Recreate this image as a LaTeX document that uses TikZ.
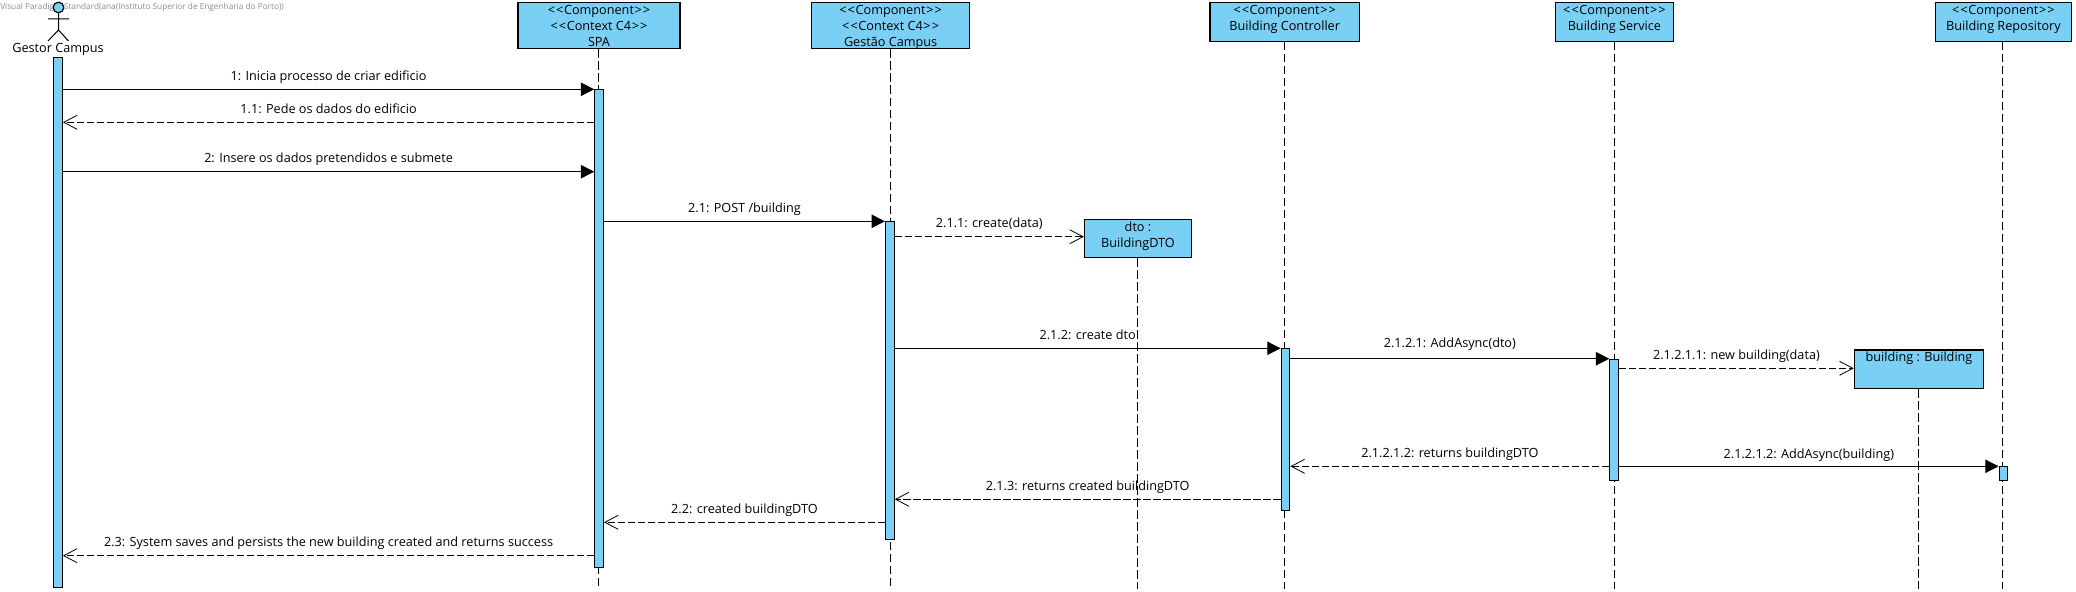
\documentclass[tikz,border=0pt]{standalone}
\usepackage{fontspec}
\setmainfont{Open Sans}
\usetikzlibrary{arrows.meta}
\definecolor{vpblue}{RGB}{122,207,245}
\newcommand{\stereo}[1]{<\kern0.8pt<\kern0.5pt#1\kern0.5pt>\kern0.8pt>}
\tikzset{
  lifebox/.style={draw,line width=0.9pt,fill=vpblue,inner xsep=0pt,inner ysep=0pt,anchor=north,align=center,
    font=\fontsize{9.5}{11.8}\selectfont},
  threelines/.style={text height=32.6pt,text depth=1.9pt},
  twolines/.style={text height=20.8pt,text depth=7.9pt},
  oneline/.style={text height=8.8pt,text depth=20pt},
  actbar/.style={draw,line width=0.75pt,fill=vpblue,inner sep=0pt,anchor=north,minimum width=6.6pt},
  lifeline/.style={line width=0.75pt,dash pattern=on 6.5pt off 2.5pt},
  callmsg/.style={line width=0.9pt,-{Triangle[length=10pt,width=10pt]}},
  replymsg/.style={line width=0.85pt,dash pattern=on 5.5pt off 2pt,-{Straight Barb[length=10pt,width=10.5pt,line width=0.6pt]}},
  msglabel/.style={midway,yshift=9.2pt,inner sep=0pt,font=\fontsize{9.5}{12}\selectfont,text height=7pt,text depth=2pt},
}
\begin{document}
\begin{tikzpicture}[x=0.75pt,y=0.75pt,yscale=-1,xscale=1]
\useasboundingbox (0,0) rectangle (2076,592);

% Text Node
\node [anchor=west,inner sep=0pt,text=black!45,font=\fontsize{6.2}{7}\selectfont] (watermark) at (0,7) {Visual Paradigm Standard(ana(Instituto Superior de Engenharia do Porto))};

%Shape: Actor
\node [circle,draw,line width=0.9pt,fill=vpblue,inner sep=0pt,minimum size=8pt] (gestorHead) at (58.5,7.5) {};
\coordinate (gestorHip) at (58.5,30);
\coordinate (gestorArmL) at (48,19);
\coordinate (gestorArmR) at (69,19);
\coordinate (gestorLegL) at (48,41);
\coordinate (gestorLegR) at (68.5,41);
\draw [line width=0.75pt] (gestorHead) -- (gestorHip) (gestorArmL) -- (gestorArmR) (gestorLegL) -- (gestorHip) -- (gestorLegR);
\node [inner sep=0pt,font=\fontsize{9.5}{12}\selectfont] (gestorName) at (58,49) {Gestor Campus};

%Shape: Lifeline heads
\node [lifebox,threelines,minimum width=121.5pt] (spa) at (599,2.3) {\stereo{Component}\\\stereo{Context C4}\\SPA};
\node [lifebox,threelines,minimum width=118.5pt] (gestao) at (890.6,2.3) {\stereo{Component}\\\stereo{Context C4}\\Gestão Campus};
\node [lifebox,twolines,minimum width=112pt] (controller) at (1284.7,2.3) {\stereo{Component}\\Building Controller};
\node [lifebox,twolines,minimum width=88.3pt] (service) at (1614.4,2.3) {\stereo{Component}\\Building Service};
\node [lifebox,twolines,minimum width=102.2pt] (repository) at (2003.4,2.3) {\stereo{Component}\\Building Repository};
\node [lifebox,twolines,minimum width=80.3pt] (dto) at (1138,218.7) {dto :\\BuildingDTO};
\node [lifebox,oneline,minimum width=97pt] (building) at (1919,349.3) {building : Building};

%Straight Lines
\coordinate (spaEnd) at (598.5,589);
\coordinate (gestaoEnd) at (890.6,589);
\coordinate (dtoEnd) at (1137.5,589);
\coordinate (controllerEnd) at (1284.4,589);
\coordinate (serviceEnd) at (1614,589);
\coordinate (buildingEnd) at (1918.5,589);
\coordinate (repositoryEnd) at (2002,589);
\draw [lifeline] (spa.south -| spaEnd) -- (spaEnd);
\draw [lifeline] (gestao.south -| gestaoEnd) -- (gestaoEnd);
\draw [lifeline] (dto.south -| dtoEnd) -- (dtoEnd);
\draw [lifeline] (controller.south -| controllerEnd) -- (controllerEnd);
\draw [lifeline] (service.south -| serviceEnd) -- (serviceEnd);
\draw [lifeline] (building.south -| buildingEnd) -- (buildingEnd);
\draw [lifeline] (repository.south -| repositoryEnd) -- (repositoryEnd);

%Shape: Rectangle
\node [actbar,minimum height=397.7pt] (barGestor) at (58,56.7) {};
\node [actbar,minimum height=358pt] (barSpa) at (599.1,89.3) {};
\node [actbar,minimum height=238.5pt] (barGestao) at (889.8,221.3) {};
\node [actbar,minimum height=121.5pt] (barController) at (1285.5,348.3) {};
\node [actbar,minimum height=90.75pt] (barService) at (1614.2,358.7) {};
\node [actbar,minimum height=10pt] (barRepository) at (2003.5,466.3) {};

%Straight Lines
\draw [callmsg] (barGestor.east |- 0,89.3) -- node [msglabel] (m1) {1: Inicia processo de criar edificio} (barSpa.west |- 0,89.3);
\draw [replymsg] (barSpa.west |- 0,122.3) -- node [msglabel] (m11) {1.1: Pede os dados do edificio} (barGestor.east |- 0,122.3);
\draw [callmsg] (barGestor.east |- 0,171.7) -- node [msglabel] (m2) {2: Insere os dados pretendidos e submete} (barSpa.west |- 0,171.7);
\draw [callmsg] (barSpa.east |- 0,221.3) -- node [msglabel] (m21) {2.1: POST /building} (barGestao.west |- 0,221.3);
\draw [replymsg] (barGestao.east |- 0,236.7) -- node [msglabel] (m211) {2.1.1: create(data)} (dto.west |- 0,236.7);
\draw [callmsg] (barGestao.east |- 0,348.3) -- node [msglabel] (m212) {2.1.2: create dto} (barController.west |- 0,348.3);
\draw [callmsg] (barController.east |- 0,358.7) -- node [msglabel,yshift=1.5pt] (m2121) {2.1.2.1: AddAsync(dto)} (barService.west |- 0,358.7);
\draw [replymsg] (barService.east |- 0,368.3) -- node [msglabel] (m21211) {2.1.2.1.1: new building(data)} (building.west |- 0,368.3);
\draw [callmsg] (barService.east |- 0,466.3) -- node [msglabel,yshift=-1pt] (m21212) {2.1.2.1.2: AddAsync(building)} (barRepository.west |- 0,466.3);
\draw [replymsg] (barService.west |- 0,466.3) -- node [msglabel] (m21212r) {2.1.2.1.2: returns buildingDTO} (barController.east |- 0,466.3);
\draw [replymsg] (barController.west |- 0,499.3) -- node [msglabel] (m213) {2.1.3: returns created buildingDTO} (barGestao.east |- 0,499.3);
\draw [replymsg] (barGestao.west |- 0,522.3) -- node [msglabel] (m22) {2.2: created buildingDTO} (barSpa.east |- 0,522.3);
\draw [replymsg] (barSpa.west |- 0,555.7) -- node [msglabel] (m23) {2.3: System saves and persists the new building created and returns success} (barGestor.east |- 0,555.7);

\end{tikzpicture}
\end{document}
